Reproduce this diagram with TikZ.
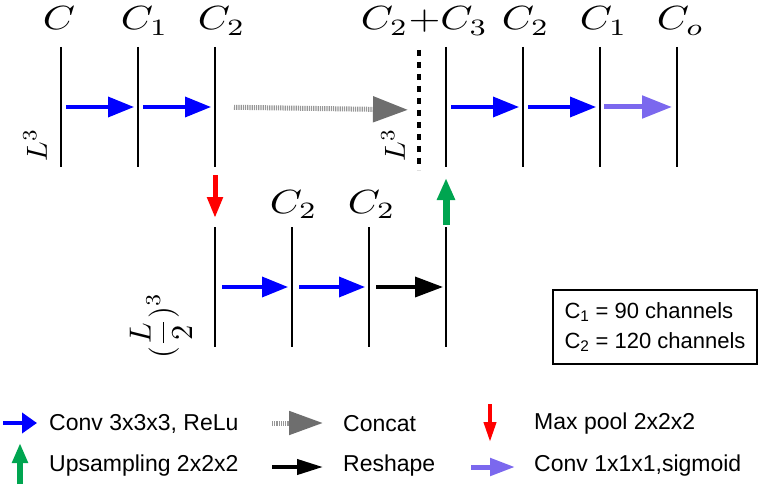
\documentclass[tikz,border=0pt]{standalone}
\usepackage{amsmath}
\usepackage{fontspec}
\newfontfamily\keyfont{Liberation Sans}
\usetikzlibrary{arrows.meta, positioning}

\definecolor{convblue}{RGB}{0,0,255}
\definecolor{sigpurple}{RGB}{123,104,238}
\definecolor{catgray}{RGB}{110,110,110}
\definecolor{catshaft}{RGB}{150,150,150}
\definecolor{poolred}{RGB}{255,0,0}
\definecolor{upgreen}{RGB}{0,165,80}

\begin{document}
\begin{tikzpicture}[x=1pt, y=-1pt, node distance=77pt]
\tikzstyle{layer}=[minimum height=120pt, minimum width=0pt, inner sep=0pt, outer sep=0pt]
\tikzstyle{dim}=[inner sep=0pt, xscale=4.1, yscale=3.35]
\tikzstyle{size}=[inner sep=0pt, scale=2.9, rotate=90]
\tikzstyle{legend}=[font=\keyfont\fontsize{23}{26}\selectfont, inner sep=0pt, anchor=west]
\tikzstyle{conv}=[draw=convblue, line width=3.5pt, -{Triangle[length=26pt,width=20pt]}]
\tikzstyle{concat}=[draw=catshaft, line width=5pt, dash pattern=on 1.2pt off 1pt, -{Triangle[length=35pt,width=25pt,color=catgray]}]
\tikzstyle{pool}=[draw=poolred, line width=5pt, -{Triangle[length=21pt,width=15pt]}]
\tikzstyle{upsample}=[draw=upgreen, line width=7pt, -{Triangle[length=22pt,width=17pt]}]
\tikzstyle{reshape}=[draw=black, line width=3.5pt, -{Triangle[length=28pt,width=20pt]}]
\tikzstyle{sigmoid}=[draw=sigpurple, line width=5pt, -{Triangle[length=30pt,width=22pt]}]

\useasboundingbox (0,0) rectangle (759,489);

% encoder, full resolution
\node[layer] (A0) at (61,107) {};
\node[layer] (A1) [right of=A0] {};
\node[layer] (A2) [right of=A1] {};
% skip connection joins here
\node[layer] (M) at (419,110) {};
% decoder
\node[layer] (B0) at (446,107) {};
\node[layer] (B1) [right of=B0] {};
\node[layer] (B2) [right of=B1] {};
\node[layer] (B3) [right of=B2] {};
% half resolution
\node[layer] (H0) at (215,287) {};
\node[layer] (H1) [right of=H0] {};
\node[layer] (H2) [right of=H1] {};
\node[layer] (H3) [right of=H2] {};

\foreach \n in {A0,A1,A2,B0,B1,B2,B3,H0,H1,H2,H3}
  \draw[line width=2.8pt] (\n.north) -- (\n.south);
\draw[line width=4pt, dash pattern=on 6pt off 6pt] (M.north) -- (M.south);

% channel counts
\node[dim, anchor=base west] (cA0) at (42,30) {$C$};
\node[dim, anchor=base west] (cA1) at (120,30) {$C_1$};
\node[dim, anchor=base west] (cA2) at (197,30) {$C_2$};
\node[dim, anchor=base west] (cM)  at (360,30) {$C_2{+}C_3$};
\node[dim, anchor=base west] (cB1) at (501,30) {$C_2$};
\node[dim, anchor=base west] (cB2) at (579,30) {$C_1$};
\node[dim, anchor=base west] (cB3) at (656,30) {$C_o$};
\node[dim, anchor=base west] (cH1) at (269,213) {$C_2$};
\node[dim, anchor=base west] (cH2) at (347,213) {$C_2$};

% spatial sizes
\node[size] (sA) at (35,145) {$L^3$};
\node[size] (sM) at (393,145) {$L^3$};
\node[size, scale=1.05] (sH) at (161,326) {$(\dfrac{L}{2})^3$};

% operations
\draw[conv, shorten <=5pt, shorten >=4pt] (A0) -- (A1);
\draw[conv, shorten <=5pt, shorten >=4pt] (A1) -- (A2);
\draw[concat, shorten <=19pt, shorten >=11pt] (A2) -- (M);
\draw[conv, shorten <=5pt, shorten >=4pt] (B0) -- (B1);
\draw[conv, shorten <=5pt, shorten >=4pt] (B1) -- (B2);
\draw[sigmoid, shorten <=4pt, shorten >=5pt] (B2) -- (B3);
\draw[conv, shorten <=7pt, shorten >=4pt] (H0) -- (H1);
\draw[conv, shorten <=7pt, shorten >=4pt] (H1) -- (H2);
\draw[reshape, shorten <=7pt, shorten >=3pt] (H2) -- (H3);
\draw[pool, shorten <=8pt, shorten >=9pt] (A2) -- (H0);
\draw[upsample, shorten <=2pt, shorten >=11pt] (H3) -- (B0);

% channel numbers
\node[draw, line width=2.5pt, minimum width=204pt, minimum height=74pt,
      align=left, font=\keyfont\fontsize{22}{30}\selectfont] (key) at (655,327)
  {C\textsubscript{1} = 90 channels\\C\textsubscript{2} = 120 channels};

% legend
\node[legend] (l1) at (49,424) {Conv 3x3x3, ReLu};
\node[legend] (l2) at (343,424) {Concat};
\node[legend] (l3) at (534,424) {Max pool 2x2x2};
\node[legend] (l4) at (49,466) {Upsampling 2x2x2};
\node[legend] (l5) at (343,466) {Reshape};
\node[legend] (l6) at (534,466) {Conv 1x1x1,sigmoid};

\coordinate (k1a) at (3,423);   \coordinate (k1b) at (37,423);
\coordinate (k2a) at (272,423); \coordinate (k2b) at (323,423);
\coordinate (k3a) at (490,404); \coordinate (k3b) at (490,442);
\coordinate (k4a) at (20,484);  \coordinate (k4b) at (20,443);
\coordinate (k5a) at (272,467); \coordinate (k5b) at (323,467);
\coordinate (k6a) at (471,467); \coordinate (k6b) at (515,467);

\draw[draw=convblue, line width=4pt, -{Triangle[length=15pt,width=20pt]}] (k1a) -- (k1b);
\draw[draw=catshaft, line width=5pt, dash pattern=on 1.2pt off 1pt, -{Triangle[length=34pt,width=23pt,color=catgray]}] (k2a) -- (k2b);
\draw[draw=poolred, line width=4pt, -{Triangle[length=20pt,width=12pt]}] (k3a) -- (k3b);
\draw[draw=upgreen, line width=6pt, -{Triangle[length=20pt,width=15pt]}] (k4a) -- (k4b);
\draw[draw=black, line width=4pt, -{Triangle[length=26pt,width=15pt]}] (k5a) -- (k5b);
\draw[draw=sigpurple, line width=5pt, -{Triangle[length=25pt,width=17pt]}] (k6a) -- (k6b);

\end{tikzpicture}
\end{document}
